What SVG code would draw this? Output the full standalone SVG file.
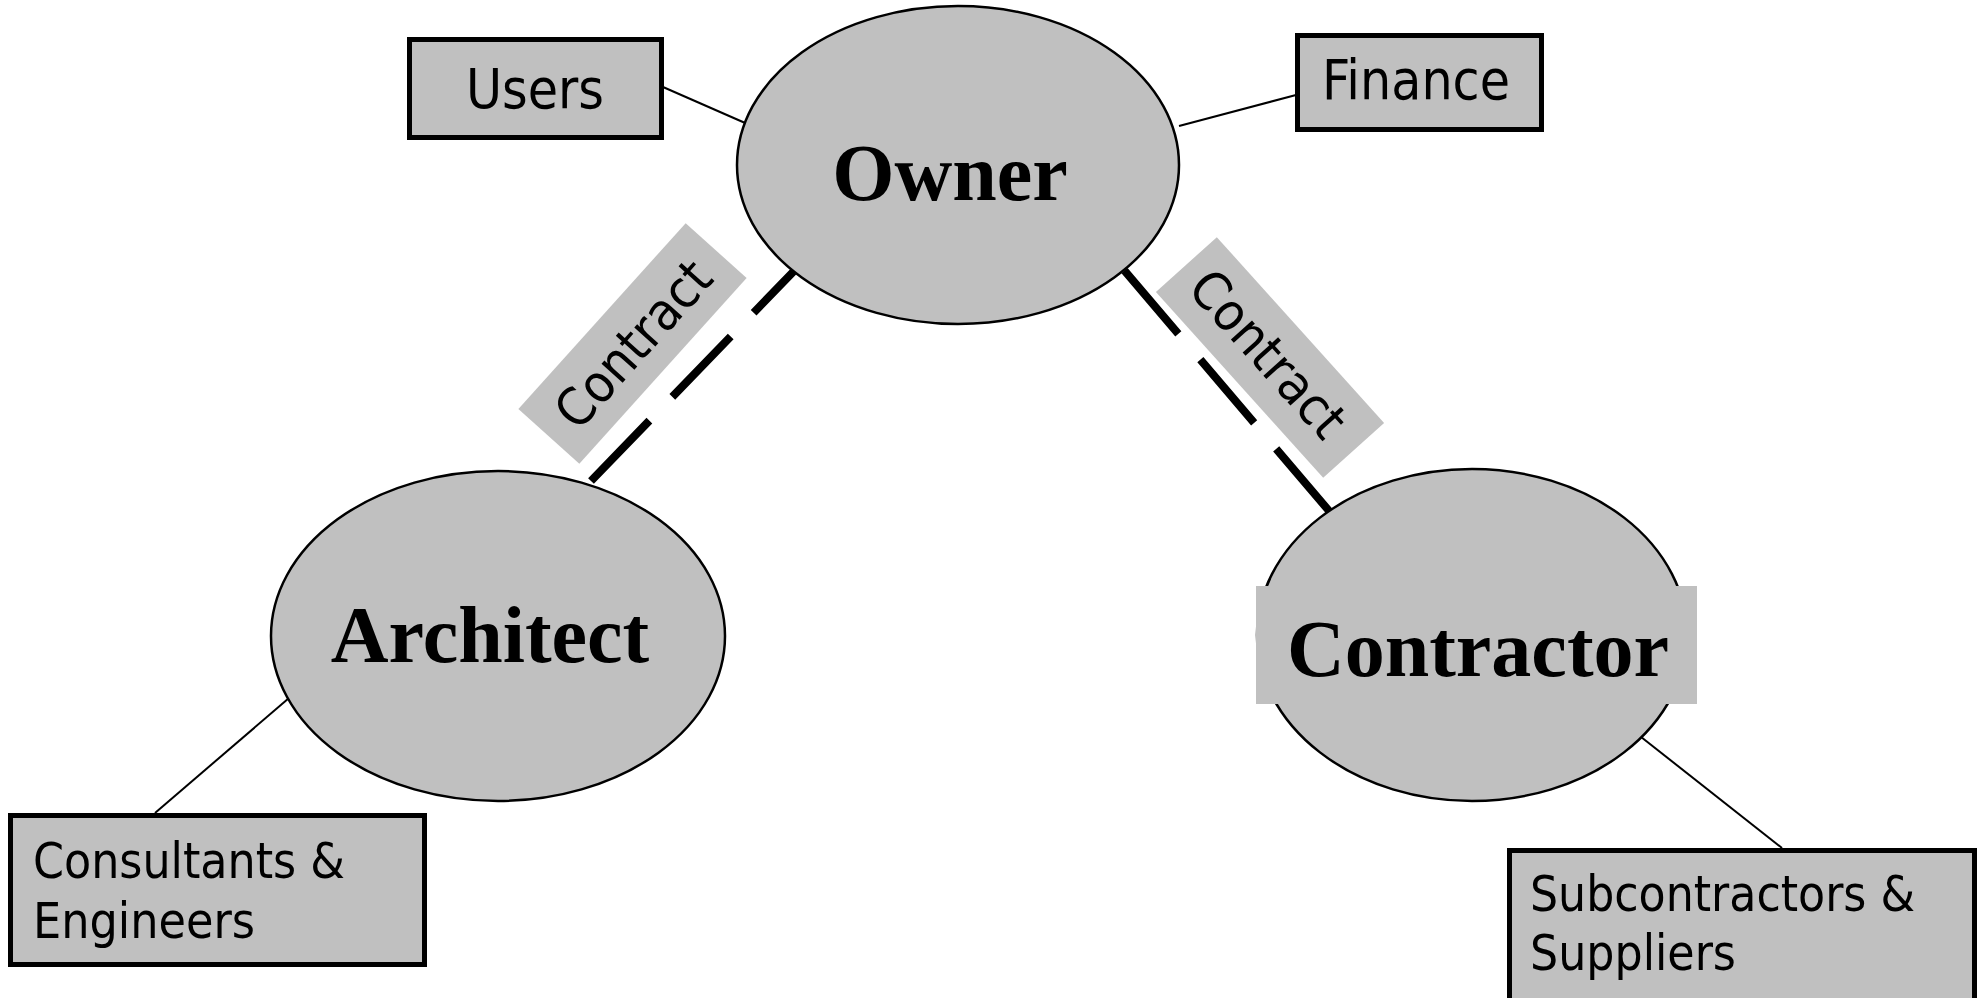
<svg xmlns="http://www.w3.org/2000/svg" width="1983" height="998" viewBox="0 0 1983 998">
<style>
.ell{fill:#c0c0c0;stroke:#000;stroke-width:2.5}
.box{fill:#c0c0c0;stroke:#000;stroke-width:5}
.thin{stroke:#000;stroke-width:2;fill:none}
.dash{stroke:#000;stroke-width:8;fill:none;stroke-linecap:butt}
.lbl{fill:#c0c0c0;stroke:none}
.big{font-family:"Liberation Serif","Times New Roman",serif;font-weight:bold;font-size:80px;fill:#000;text-anchor:middle}
.sm{font-family:"DejaVu Sans Condensed","DejaVu Sans",sans-serif;fill:#000}
</style>
<rect width="1983" height="998" fill="#fff"/>
<g id="connectors">
<line class="thin" x1="663" y1="87" x2="752" y2="126"/>
<line class="thin" x1="1179" y1="126" x2="1296" y2="95"/>
<line class="thin" x1="289" y1="698" x2="155" y2="813"/>
<line class="thin" x1="1636" y1="733" x2="1782" y2="848"/>
<line class="dash" x1="591" y1="481" x2="794" y2="271" stroke-dasharray="84 33"/>
<line class="dash" x1="1330" y1="512" x2="1124" y2="270" stroke-dasharray="83 34"/>
<g id="contract-left" transform="translate(632.5,343.5) rotate(-48)">
<rect class="lbl" x="-125" y="-41" width="250" height="82"/>
<text class="sm" x="0" y="19" font-size="52" text-anchor="middle" textLength="205" lengthAdjust="spacingAndGlyphs">Contract</text>
</g>
<g id="contract-right" transform="translate(1270,357.5) rotate(48)">
<rect class="lbl" x="-125" y="-41" width="250" height="82"/>
<text class="sm" x="-4" y="17" font-size="52" text-anchor="middle" textLength="205" lengthAdjust="spacingAndGlyphs">Contract</text>
</g>
</g>
<g id="owner">
<ellipse class="ell" cx="958" cy="165" rx="221" ry="159"/>
<text class="big" x="950" y="200">Owner</text>
</g>
<g id="architect">
<ellipse class="ell" cx="498" cy="636" rx="227" ry="165"/>
<text class="big" x="490" y="662">Architect</text>
</g>
<g id="contractor">
<ellipse class="ell" cx="1472" cy="635" rx="215" ry="166"/>
<rect class="lbl" x="1256" y="586" width="441" height="118"/>
<text class="big" x="1478" y="676">Contractor</text>
</g>
<g id="users">
<rect class="box" x="409.5" y="39.5" width="252" height="98"/>
<text class="sm" x="466" y="108" font-size="55" textLength="138" lengthAdjust="spacingAndGlyphs">Users</text>
</g>
<g id="finance">
<rect class="box" x="1297.5" y="35.5" width="244" height="94"/>
<text class="sm" x="1322" y="99" font-size="55" textLength="188" lengthAdjust="spacingAndGlyphs">Finance</text>
</g>
<g id="consultants">
<rect class="box" x="10.5" y="815.5" width="414" height="149"/>
<text class="sm" x="33" y="878" font-size="50" textLength="312" lengthAdjust="spacingAndGlyphs">Consultants &amp;</text>
<text class="sm" x="33" y="938" font-size="50" textLength="222" lengthAdjust="spacingAndGlyphs">Engineers</text>
</g>
<g id="subcontractors">
<rect class="box" x="1509.5" y="850.5" width="465" height="160"/>
<text class="sm" x="1530" y="911" font-size="50" textLength="385" lengthAdjust="spacingAndGlyphs">Subcontractors &amp;</text>
<text class="sm" x="1530" y="970" font-size="50" textLength="206" lengthAdjust="spacingAndGlyphs">Suppliers</text>
</g>
</svg>
